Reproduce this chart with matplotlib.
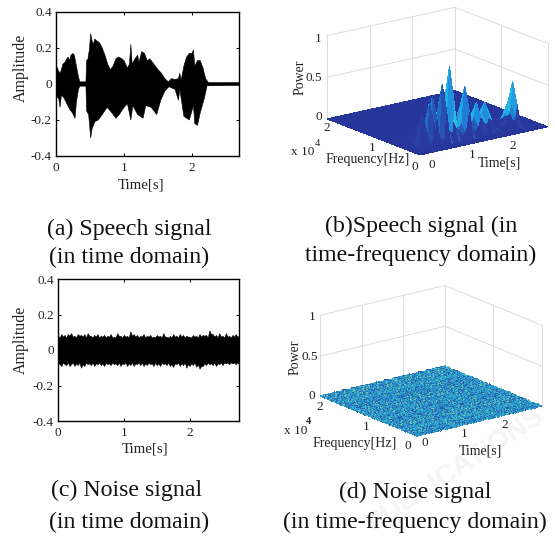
import matplotlib
matplotlib.use("Agg")
import matplotlib.pyplot as plt
import numpy as np
from matplotlib.colors import LinearSegmentedColormap
from mpl_toolkits.mplot3d import proj3d

W, H = 555, 536
plt.rcParams['font.family'] = ['Liberation Serif', 'DejaVu Serif']
TEXT = '#222222'

# (a) speech waveform envelope
speech_t_up = [0, .02, .04, .06, .08, .10, .13, .16, .18, .20, .22, .25, .27, .29, .31, .33, .35, .44, .45, .47,
               .49, .51, .53, .55, .57, .60, .64, .68, .72, .76, .80, .84, .88, .92, .97, 1.0, 1.05, 1.08, 1.10,
               1.12, 1.16, 1.20, 1.22, 1.26, 1.30, 1.34, 1.38, 1.42, 1.46, 1.50, 1.55, 1.60, 1.65, 1.70, 1.75,
               1.80, 1.82, 1.84, 1.88, 1.92, 1.96, 2.0, 2.02, 2.04, 2.08, 2.12, 2.16, 2.20, 2.24, 2.7]
speech_up = [.10, .09, .07, .06, .08, .11, .12, .14, .15, .13, .16, .17, .16, .12, .08, .04, .012, .012, .13, .14,
             .19, .28, .24, .22, .25, .24, .23, .20, .16, .11, .08, .10, .14, .15, .14, .13, .09, .11, .22,
             .11, .14, .16, .12, .18, .17, .13, .14, .12, .10, .08, .06, .03, .012, .03, .025,
             .03, .06, .02, .10, .15, .17, .17, .19, .10, .13, .13, .09, .03, .008, .008]
speech_t_low = [0, .04, .06, .08, .12, .16, .20, .24, .28, .30, .33, .35, .44, .45, .48, .51, .53, .57, .62, .68,
                .75, .80, .88, .93, 1.0, 1.05, 1.10, 1.13, 1.20, 1.28, 1.32, 1.40, 1.48, 1.54, 1.60, 1.66, 1.75,
                1.80, 1.82, 1.88, 1.96, 2.02, 2.04, 2.08, 2.12, 2.18, 2.22, 2.7]
speech_low = [-.07, -.08, -.13, -.06, -.08, -.11, -.14, -.16, -.19, -.10, -.03, -.012, -.012, -.15, -.17, -.30,
              -.25, -.21, -.20, -.17, -.13, -.15, -.19, -.17, -.13, -.11, -.20, -.12, -.17, -.19, -.12, -.13,
              -.17, -.09, -.04, -.015, -.03, -.09, -.03, -.18, -.20, -.12, -.22, -.23, -.16, -.08, -.01, -.008]

# (c) noise waveform envelope, one value every 0.025 s
noise_up = [.08, .07, .09, .075, .085, .07, .09, .08, .095, .075, .08, .07, .09, .08, .085, .075, .09, .07, .095, .08,
            .08, .07, .085, .075, .09, .07, .08, .075, .085, .07, .08, .075, .09, .07, .075, .07, .095, .08, .08, .07,
            .085, .075, .08, .07, .105, .08, .09, .075, .085, .07, .08, .075, .09, .07, .08, .075, .085, .07, .075, .07,
            .085, .075, .08, .07, .095, .075, .075, .07, .08, .07, .09, .075, .08, .07, .09, .075, .085, .07, .08, .075,
            .075, .07, .085, .075, .08, .07, .09, .075, .085, .08, .085, .07, .11, .09, .09, .075, .085, .07, .095, .075,
            .08, .07, .095, .075, .08, .07, .085, .075, .09, .075, .08]
noise_low = [-.07, -.08, -.09, -.07, -.08, -.085, -.07, -.09, -.08, -.07, -.09, -.075, -.085, -.07, -.10, -.08, -.09,
             -.07, -.08, -.075, -.085, -.07, -.09, -.075, -.08, -.07, -.085, -.075, -.09, -.07, -.08, -.075, -.085, -.07,
             -.08, -.075, -.085, -.07, -.09, -.075, -.08, -.07, -.09, -.075, -.085, -.07, -.09, -.075, -.08, -.07, -.085,
             -.07, -.09, -.075, -.085, -.07, -.08, -.075, -.09, -.07, -.085, -.075, -.09, -.07, -.08, -.075, -.085, -.07,
             -.09, -.08, -.095, -.075, -.08, -.07, -.09, -.075, -.085, -.07, -.10, -.08, -.09, -.075, -.085, -.07, -.095,
             -.08, -.105, -.09, -.09, -.075, -.085, -.07, -.08, -.075, -.085, -.07, -.09, -.075, -.08, -.07, -.085, -.07,
             -.075, -.07, -.08, -.07, -.075, -.07, -.08, -.07, -.08]
noise_t = np.arange(len(noise_up)) * .025

amp_ticks = [-.4, -.2, 0, .2, .4]
amp_labels = ['-0.4', '-0.2', '0', '0.2', '0.4']
time_ticks = [0, 1, 2]

# (b) speech spectrogram, freq in 1e4 Hz, time on the drawn axis
spec_time = [0, .11, .22, .26, .29, .37, .41, .44, .48, .51, .54, .61, .69, .74, .80, .86, .91, .97, 1.02, 1.11,
             1.20, 1.27, 1.33, 1.42, 1.49, 1.54, 1.61, 1.68, 1.73, 1.80, 1.89, 2.06, 2.22, 2.33, 2.37, 2.39, 2.41,
             2.44, 2.56, 2.72, 3.0]
spec_freq = [0, .03, .1, .2, .3, .45, .7, 2.0]
spec_power = np.array([
    [0] * 41,
    [0, .01, .03, .08, .02, .01, .03, .08, .03, .07, .03, .01, .03, .09, .04, .04, .08, .05, .04, .03, .03, .07, .04,
     .02, .04, .05, .04, .03, .05, .04, .02, .01, .01, .03, .05, .07, .04, .02, .01, 0, 0],
    [0, .02, .04, .25, .04, .02, .06, .30, .08, .35, .07, .02, .07, .40, .15, .16, .50, .20, .16, .08, .12, .35, .16,
     .08, .15, .25, .18, .15, .22, .18, .06, .02, .03, .12, .18, .30, .18, .07, .02, .01, 0],
    [0, .02, .05, .41, .05, .02, .10, .53, .12, .60, .10, .03, .10, .72, .20, .25, .92, .30, .25, .12, .20, .64, .25,
     .12, .25, .41, .28, .25, .39, .30, .10, .03, .05, .20, .30, .57, .30, .12, .03, .01, 0],
    [0, .01, .03, .20, .03, .01, .05, .28, .08, .32, .06, .02, .06, .38, .14, .18, .52, .22, .18, .08, .14, .38, .18,
     .08, .16, .26, .20, .18, .26, .20, .06, .02, .03, .14, .22, .30, .20, .08, .02, 0, 0],
    [0, .01, .02, .05, .02, .01, .02, .06, .03, .07, .03, .01, .03, .08, .05, .06, .10, .06, .05, .03, .04, .08, .05,
     .03, .05, .06, .05, .05, .06, .05, .03, .01, .01, .04, .05, .06, .05, .03, .01, 0, 0],
    [0] * 41,
    [0] * 41,
])

# (d) noise spectrogram cells read as a speckle patch, digits are colour steps
noise_cells = [
    "35243617425163342715364253146327",
    "42637152436271544362517342651436",
    "16354274315263724153627143526174",
    "53426137462531645372415263174352",
    "24715364253716423651742536143627",
    "63142537164253176425317264351742",
    "35264173526417352614735246137526",
    "41736254173625417362541736215473",
    "72514362571436257143265714326517",
    "26357142635714263571426375142635",
    "53162437516243751624375162437561",
    "14725361472536147253614725361472",
    "36541727365417236541723654172365",
    "62173546217354621735462173542617",
    "45316274531627453162745316274531",
    "27643152764315276431527643152764",
    "71352647135264713526471352647135",
    "34267513426751342675134267513426",
    "56124735612473561247356124735612",
    "13576241357624135762413576241357",
    "42735164273516427351642735164273",
    "65317426531742653174265317426531",
    "37142653714265371426537142653714",
    "24653172465317246531724653172465",
    "51327465132746513274651327465132",
    "73416257341625734162573416257341",
    "16243571624357162435716243571624",
    "32765143276514327651432765143276",
    "45172364517236451723645172364517",
    "67341526734152673415267341526734",
    "23516742351674235167423516742351",
    "54267315426731542673154267315426",
]
noise_colors = ['#2a5fae', '#2a7fc0', '#2a8fc5', '#2b9ccc', '#2fa8d0', '#3ab4c8', '#7fc4a0']

captions = [
    ("(a) Speech signal", 129, 229), ("(in time domain)", 129, 257),
    ("(b)Speech signal (in", 421, 226), ("time-frequency domain)", 421, 255),
    ("(c) Noise signal", 127, 490), ("(in time domain)", 129, 522),
    ("(d) Noise signal", 415, 492), ("(in time-frequency domain)", 415, 522),
]

# text around the two 3d panels: label, x, y in pixels of the picture
labels_b = [('0', 432, 165), ('1', 472, 155), ('2', 513, 146), ('0', 415, 167), ('1', 372, 148), ('2', 327, 128),
            ('0', 319, 117), ('0.5', 314, 78), ('1', 318, 39), ('Frequency[Hz]', 368, 160), ('Time[s]', 499, 163),
            ('x 10', 303, 152)]
labels_d = [('0', 425, 443), ('1', 464, 434), ('2', 505, 425), ('0', 408, 446), ('1', 366, 427), ('2', 320, 407),
            ('0', 312, 396), ('0.5', 310, 357), ('1', 312, 317), ('Frequency[Hz]', 355, 443), ('Time[s]', 480, 451),
            ('x 10', 296, 431)]

surf_cmap = LinearSegmentedColormap.from_list(
    'surf', [(0, '#27369a'), (.04, '#2a3aa0'), (.12, '#1f7fd8'), (.22, '#22b0e6'), (.7, '#35c5d8'), (.85, '#b5d050'),
             (1, '#f5e020')])

fig = plt.figure(figsize=(W / 100, H / 100), dpi=100)


def px_text(x, y, s, **kw):
    kw.setdefault('ha', 'center')
    kw.setdefault('va', 'center')
    kw.setdefault('color', TEXT)
    fig.text(x / W, 1 - y / H, s, **kw)


def axes_px(left, top, right, bottom, **kw):
    return fig.add_axes([left / W, 1 - bottom / H, (right - left) / W, (bottom - top) / H], **kw)


def wave_axes(box, xmax, amp_y, time_x, time_y):
    ax = axes_px(*box)
    ax.set_xlim(0, xmax)
    ax.set_ylim(-.4, .4)
    ax.set_xticks(time_ticks)
    ax.set_yticks(amp_ticks, amp_labels)
    ax.tick_params(direction='in', length=2.5, width=.7, labelsize=9.5, labelcolor=TEXT, top=True, right=True, pad=3)
    ax.tick_params(axis='x', pad=4.5)
    for s in ax.spines.values():
        s.set_linewidth(1.0)
    px_text(21, amp_y, 'Amplitude', rotation=90, fontsize=11.5)
    px_text(time_x, time_y, 'Time[s]', fontsize=10.7)
    return ax


ax = wave_axes((56, 12, 239, 156), 2.69, 68, 141, 185)
ax.fill(speech_t_up + speech_t_low[::-1], speech_up + speech_low[::-1], color='black', lw=.4)

ax = wave_axes((58, 279, 239, 421), 2.75, 340, 145, 449)
ax.fill_between(noise_t, noise_low, noise_up, color='black', lw=.4)


def fit_3d(ax, corners, xmax):
    # move the square 3d axes until its floor corners land on the pixels
    left, front, right = corners
    pts = [(0, 2, 0), (0, 0, 0), (xmax, 0, 0)]

    def screen():
        out = []
        for p in pts:
            u, v, _ = proj3d.proj_transform(*p, ax.get_proj())
            out.append(ax.transData.transform((u, v)))
        return np.array(out)

    for i in range(2):
        fig.canvas.draw()
        s = screen()
        pos = ax.get_position()
        scale = (right[0] - left[0]) / (s[2, 0] - s[0, 0])
        size = pos.width * W * scale
        cx, cy = pos.x0 * W + pos.width * W / 2, pos.y0 * H + pos.height * H / 2
        want = np.array([front[0], H - front[1]])
        off = (s[1] - np.array([cx, cy])) * scale
        cx, cy = want - off
        ax.set_position([(cx - size / 2) / W, (cy - size / 2) / H, size / W, size / H])


def surface_axes(T, F, Z, colors, elev, azim, aspect, corners, labels):
    ax = fig.add_axes([.5, .3, .4, .4], projection='3d', proj_type='ortho')
    ax.view_init(elev=elev, azim=azim)
    ax.set_box_aspect(aspect)
    ax.set_xlim(0, 3)
    ax.set_ylim(0, 2)
    ax.set_zlim(0, 1)
    ax.set_axis_off()
    ax.patch.set_alpha(0)
    g = dict(color='#dcdcdc', lw=.7)
    for z in [0, .5, 1]:
        ax.plot([0, 3], [2, 2], [z, z], **g)
        ax.plot([3, 3], [0, 2], [z, z], **g)
    for t in [0, 1, 2, 3]:
        ax.plot([t, t], [2, 2], [0, 1], **g)
    ax.plot([3, 3], [1, 1], [0, 1], **g)
    ax.plot([3, 3], [0, 0], [0, 1], **g)
    ax.plot_surface(T, F, Z, facecolors=colors, rcount=Z.shape[0], ccount=Z.shape[1],
                    shade=False, linewidth=0, antialiased=False)
    for s, x, y in labels:
        px_text(x, y, s, fontsize=10 if len(s) > 4 else 9.5)
    fit_3d(ax, corners, 3)
    return ax


# faint watermark behind the lower right panel
px_text(455, 470, 'PUBLICATIONS', rotation=33, fontsize=20, color='#f5f5f5', fontweight='bold',
        family='Liberation Sans', zorder=-1)

T, F = np.meshgrid(spec_time, spec_freq)
surface_axes(T, F, spec_power, surf_cmap(spec_power), 17, -127, (160, 154.5, 87),
             ((327, 119), (420, 155), (548, 127)), labels_b)
px_text(300, 77, 'Power', rotation=90, fontsize=10)
px_text(317, 143, '4', fontsize=7.5)

digits = np.tile(np.array([[int(c) for c in row] for row in noise_cells]), (3, 3))
cells = digits * .003
rgb = matplotlib.colors.to_rgba_array(noise_colors)[digits - 1]
T2, F2 = np.meshgrid(np.linspace(0, 3, cells.shape[1]), np.linspace(0, 2, cells.shape[0]))
surface_axes(T2, F2, cells, rgb, 18.3, -127.3, (157, 160, 86),
             ((320, 397), (417, 437), (542, 407)), labels_d)
px_text(295, 357, 'Power', rotation=90, fontsize=10)
px_text(309, 422, '4', fontsize=7.5, fontweight='bold')

for s, x, y in captions:
    px_text(x, y, s, fontsize=17.2, color='#111111')

fig.savefig('out.png', dpi=100)
